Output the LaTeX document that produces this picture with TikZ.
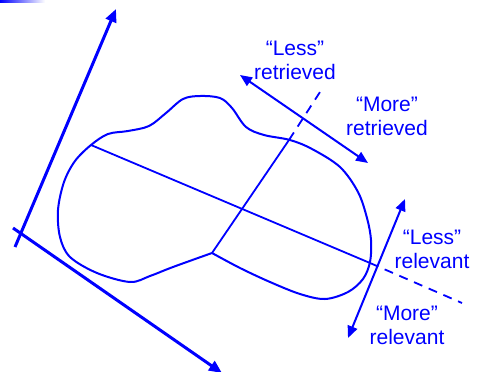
\documentclass[tikz,border=0pt]{standalone}
\usepackage{fontspec}
\setmainfont{Liberation Sans}
\usetikzlibrary{arrows.meta}
\tikzset{
  axis/.style={draw=blue, line width=3pt, -{Triangle[length=13pt,width=11pt]}},
  scale arrow/.style={draw=blue, line width=2pt, {Triangle[length=12pt,width=10pt]}-{Triangle[length=12pt,width=10pt]}},
  cut/.style={draw=blue, line width=1.8pt},
  cutdash/.style={draw=blue, line width=1.8pt, dash pattern=on 9pt off 7pt},
  label/.style={text=blue, align=center, inner sep=0pt, font=\fontsize{21}{24}\selectfont}
}
\begin{document}
\begin{tikzpicture}[x=1pt, y=-1pt]
				\useasboundingbox (0,0) rectangle (477,372);
				\shade[left color=blue, right color=white] (0,0) rectangle (45,2);
				
				\coordinate (o1) at (15,247);
				\coordinate (t1) at (116,9);
				\coordinate (o2) at (13,228);
				\coordinate (t2) at (222,373);
				\draw[axis] (o1) -- (t1);
				\draw[axis] (o2) -- (t2);
				
				\draw[blue, line width=2pt, line join=round]
				  plot[smooth, tension=0.55] coordinates {(212,253) (240,268) (270,282) (300,294) (325,299) (348,292) (363,279) (370,262) (371,240) (367,218) (358,192) (340,167) (312,149) (290,140) (264,135) (246,127) (232,108) (220,98) (200,96) (183,99) (166,113) (149,126) (128,131) (108,134) (91,145) (75,161) (64,182) (58,210) (60,237) (70,257) (97,273) (130,282) (150,276) (173,267) (212,253)};
				
				\coordinate (c) at (212,253);
				\coordinate (cb) at (289,140);
				\coordinate (ct) at (320,92);
				\coordinate (l) at (91,145);
				\coordinate (lb) at (370,263);
				\coordinate (le) at (462,303);
				\draw[cut] (c) -- (cb);
				\draw[cutdash] (cb) -- (ct);
				\draw[cut] (l) -- (lb);
				\draw[cutdash] (lb) -- (le);
				
				\coordinate (r1) at (240,75);
				\coordinate (r2) at (368,163);
				\coordinate (v1) at (348,338);
				\coordinate (v2) at (405,199);
				\draw[scale arrow] (r1) -- (r2);
				\draw[scale arrow] (v1) -- (v2);
				
				\node[label] (lessret) at (295,60) {“Less”\\retrieved};
				\node[label] (moreret) at (387,116) {“More”\\retrieved};
				\node[label] (lessrel) at (432,249) {“Less”\\relevant};
				\node[label] (morerel) at (407,325) {“More”\\relevant};
			\end{tikzpicture}
\end{document}
